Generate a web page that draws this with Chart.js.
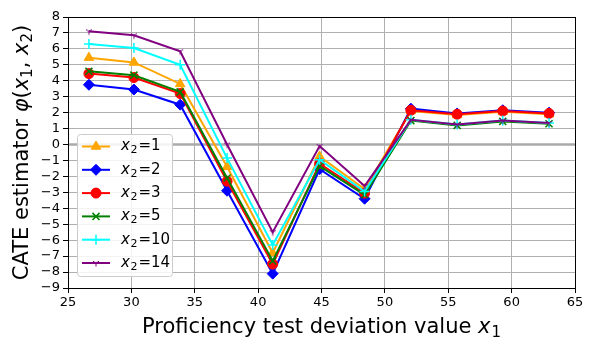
<!DOCTYPE html>
<html>
<head>
<meta charset="utf-8">
<script src="https://cdn.jsdelivr.net/npm/chart.js@4.4.1/dist/chart.umd.min.js"></script>
<style>
html,body{margin:0;padding:0;background:#fff;}
#wrap{position:relative;width:592px;height:348px;}
</style>
</head>
<body>
<div id="wrap"><canvas id="c" width="592" height="348"></canvas></div>
<script>
const xValues = [26.65, 30.2, 33.85, 37.55, 41.15, 44.85, 48.4, 52.05, 55.7, 59.3, 62.95];
const seriesLabels = ["1", "2", "3", "5", "10", "14"];
const s_x2_1  = [5.45, 5.15, 3.8, -1.4, -6.8, -0.75, -2.8, 2.1, 1.85, 2.05, 1.9];
const s_x2_2  = [3.75, 3.45, 2.5, -2.9, -8.1, -1.55, -3.4, 2.25, 1.95, 2.15, 2.0];
const s_x2_3  = [4.45, 4.2, 3.2, -2.3, -7.5, -1.2, -3.05, 2.15, 1.9, 2.1, 1.95];
const s_x2_5  = [4.6, 4.35, 3.3, -2.1, -7.3, -1.35, -3.15, 1.5, 1.2, 1.45, 1.3];
const s_x2_10 = [6.3, 6.05, 5.0, -0.85, -6.3, -0.95, -2.95, 1.55, 1.25, 1.5, 1.35];
const s_x2_14 = [7.1, 6.85, 5.85, 0.0, -5.5, -0.1, -2.6, 1.55, 1.25, 1.5, 1.35];
const xTicks = [25, 30, 35, 40, 45, 50, 55, 60, 65];
const yTicks = [-9,-8,-7,-6,-5,-4,-3,-2,-1,0,1,2,3,4,5,6,7,8];

function triDown(color){
  const c = document.createElement('canvas');
  c.width = 10; c.height = 10;
  const g = c.getContext('2d');
  g.strokeStyle = color; g.lineWidth = 1;
  const cx = 5, cy = 5, r = 3.5;
  g.beginPath();
  g.moveTo(cx, cy); g.lineTo(cx, cy + r);
  g.moveTo(cx, cy); g.lineTo(cx - r*0.866, cy - r*0.5);
  g.moveTo(cx, cy); g.lineTo(cx + r*0.866, cy - r*0.5);
  g.stroke();
  return c;
}

const seriesData = [s_x2_1, s_x2_2, s_x2_3, s_x2_5, s_x2_10, s_x2_14];
const colors = ['orange', 'blue', 'red', 'green', 'cyan', 'purple'];
const styles = ['triangle', 'rectRot', 'circle', 'crossRot', 'cross', triDown('purple')];
const radii = [5.5, 5.5, 5, 5, 5, 4];

const datasets = seriesData.map((arr, i) => ({
  label: 'x2=' + seriesLabels[i],
  data: arr.map((v, j) => ({x: xValues[j], y: v})),
  borderColor: colors[i],
  backgroundColor: colors[i],
  borderWidth: 2,
  pointStyle: styles[i],
  pointRadius: radii[i],
  pointBorderWidth: (styles[i]==='crossRot'||styles[i]==='cross') ? 1.5 : 1,
  pointBorderColor: colors[i],
  pointBackgroundColor: colors[i],
  tension: 0,
  order: 5 - i
}));

const frame = {
  id: 'frame',
  beforeDatasetsDraw(chart){
    const {ctx, chartArea:a, scales:{y}} = chart;
    const yy = y.getPixelForValue(0);
    ctx.save();
    ctx.strokeStyle = '#aaaaaa';
    ctx.lineWidth = 2.5;
    ctx.beginPath(); ctx.moveTo(a.left, yy); ctx.lineTo(a.right, yy); ctx.stroke();
    ctx.restore();
  },
  afterDraw(chart){
    const {ctx, chartArea:a} = chart;
    ctx.save();
    ctx.strokeStyle = '#000'; ctx.lineWidth = 1;
    ctx.strokeRect(Math.round(a.left)+0.5, Math.round(a.top)+0.5, Math.round(a.right-a.left), Math.round(a.bottom-a.top));
    // legend
    const lx = 77.5, ly = 134.5, lw = 95, lh = 142;
    ctx.fillStyle = 'rgba(255,255,255,0.85)';
    ctx.strokeStyle = '#cccccc';
    ctx.beginPath();
    if (ctx.roundRect) ctx.roundRect(lx, ly, lw, lh, 3); else ctx.rect(lx, ly, lw, lh);
    ctx.fill(); ctx.stroke();
    chart.data.datasets.forEach((ds, i) => {
      const yy = 146.5 + i * 23.3;
      ctx.strokeStyle = ds.borderColor; ctx.lineWidth = 2;
      ctx.beginPath(); ctx.moveTo(82, yy); ctx.lineTo(110, yy); ctx.stroke();
      const opts = {pointStyle: ds.pointStyle, radius: ds.pointRadius, borderWidth: ds.pointBorderWidth, rotation: 0};
      ctx.fillStyle = ds.backgroundColor; ctx.strokeStyle = ds.borderColor; ctx.lineWidth = ds.pointBorderWidth;
      if (Chart.helpers && Chart.helpers.drawPoint) Chart.helpers.drawPoint(ctx, opts, 96, yy);
      // text
      ctx.fillStyle = '#000';
      ctx.textBaseline = 'middle'; ctx.textAlign = 'left';
      let tx = 121;
      ctx.font = 'italic 15px "DejaVu Sans"';
      ctx.fillText('x', tx, yy); tx += ctx.measureText('x').width + 0.5;
      ctx.font = '11px "DejaVu Sans"';
      ctx.fillText('2', tx, yy + 4); tx += ctx.measureText('2').width + 1;
      ctx.font = '15px "DejaVu Sans"';
      ctx.fillText('=' + seriesLabels[i], tx, yy);
    });
    // x title
    ctx.fillStyle = '#000';
    ctx.textBaseline = 'alphabetic';
    const F = 21, FS = 15;
    const p1 = 'Proficiency test deviation value ';
    ctx.font = F + 'px "DejaVu Sans"';
    const w1 = ctx.measureText(p1).width;
    ctx.font = 'italic ' + F + 'px "DejaVu Sans"';
    const w2 = ctx.measureText('x').width;
    ctx.font = FS + 'px "DejaVu Sans"';
    const w3 = ctx.measureText('1').width;
    let sx = (a.left + a.right) / 2 - (w1 + w2 + w3 + 1) / 2;
    const by = 333;
    ctx.font = F + 'px "DejaVu Sans"'; ctx.textAlign = 'left';
    ctx.fillText(p1, sx, by); sx += w1;
    ctx.font = 'italic ' + F + 'px "DejaVu Sans"'; ctx.fillText('x', sx, by); sx += w2 + 1;
    ctx.font = FS + 'px "DejaVu Sans"'; ctx.fillText('1', sx, by + 4);
    // y title
    ctx.save();
    ctx.translate(28, (a.top + a.bottom) / 2);
    ctx.rotate(-Math.PI / 2);
    const N = F + 'px "DejaVu Sans"', I = 'italic ' + F + 'px "DejaVu Sans"', S = FS + 'px "DejaVu Sans"';
    const parts = [
      ['CATE estimator ', N, 0],
      ['φ', I, 0],
      ['(', N, 0],
      ['x', I, 0],
      ['1', S, 4],
      [', ', N, 0],
      ['x', I, 0],
      ['2', S, 4],
      [')', N, 0]
    ];
    let tot = 0;
    parts.forEach(p => { ctx.font = p[1]; tot += ctx.measureText(p[0]).width; });
    let px = -tot / 2;
    parts.forEach(p => { ctx.font = p[1]; ctx.fillText(p[0], px, p[2]); px += ctx.measureText(p[0]).width; });
    ctx.restore();
    ctx.restore();
  }
};

new Chart(document.getElementById('c'), {
  type: 'line',
  data: { datasets },
  options: {
    responsive: false,
    animation: false,
    layout: { padding: { left: 0, right: 17, top: 17, bottom: 0 } },
    plugins: { legend: { display: false }, tooltip: { enabled: false } },
    scales: {
      x: {
        type: 'linear', min: 25, max: 65,
        afterBuildTicks: s => { s.ticks = xTicks.map(v => ({value: v})); },
        afterFit: s => { s.height = 60; },
        grid: { color: '#b0b0b0', lineWidth: 1, tickColor: '#000', tickLength: 5 },
        border: { color: '#000', width: 1 },
        ticks: { color: '#000', font: { family: 'DejaVu Sans', size: 13 }, padding: 2, maxRotation: 0, autoSkip: false }
      },
      y: {
        type: 'linear', min: -9, max: 8,
        afterBuildTicks: s => { s.ticks = yTicks.map(v => ({value: v})); },
        afterFit: s => { s.width = 68; },
        grid: { color: '#b0b0b0', lineWidth: 1, tickColor: '#000', tickLength: 5 },
        border: { color: '#000', width: 1 },
        ticks: { color: '#000', font: { family: 'DejaVu Sans', size: 13 }, padding: 3, autoSkip: false,
          callback: v => String(v).replace('-', '\u2212') }
      }
    }
  },
  plugins: [frame]
});
</script>
</body>
</html>
